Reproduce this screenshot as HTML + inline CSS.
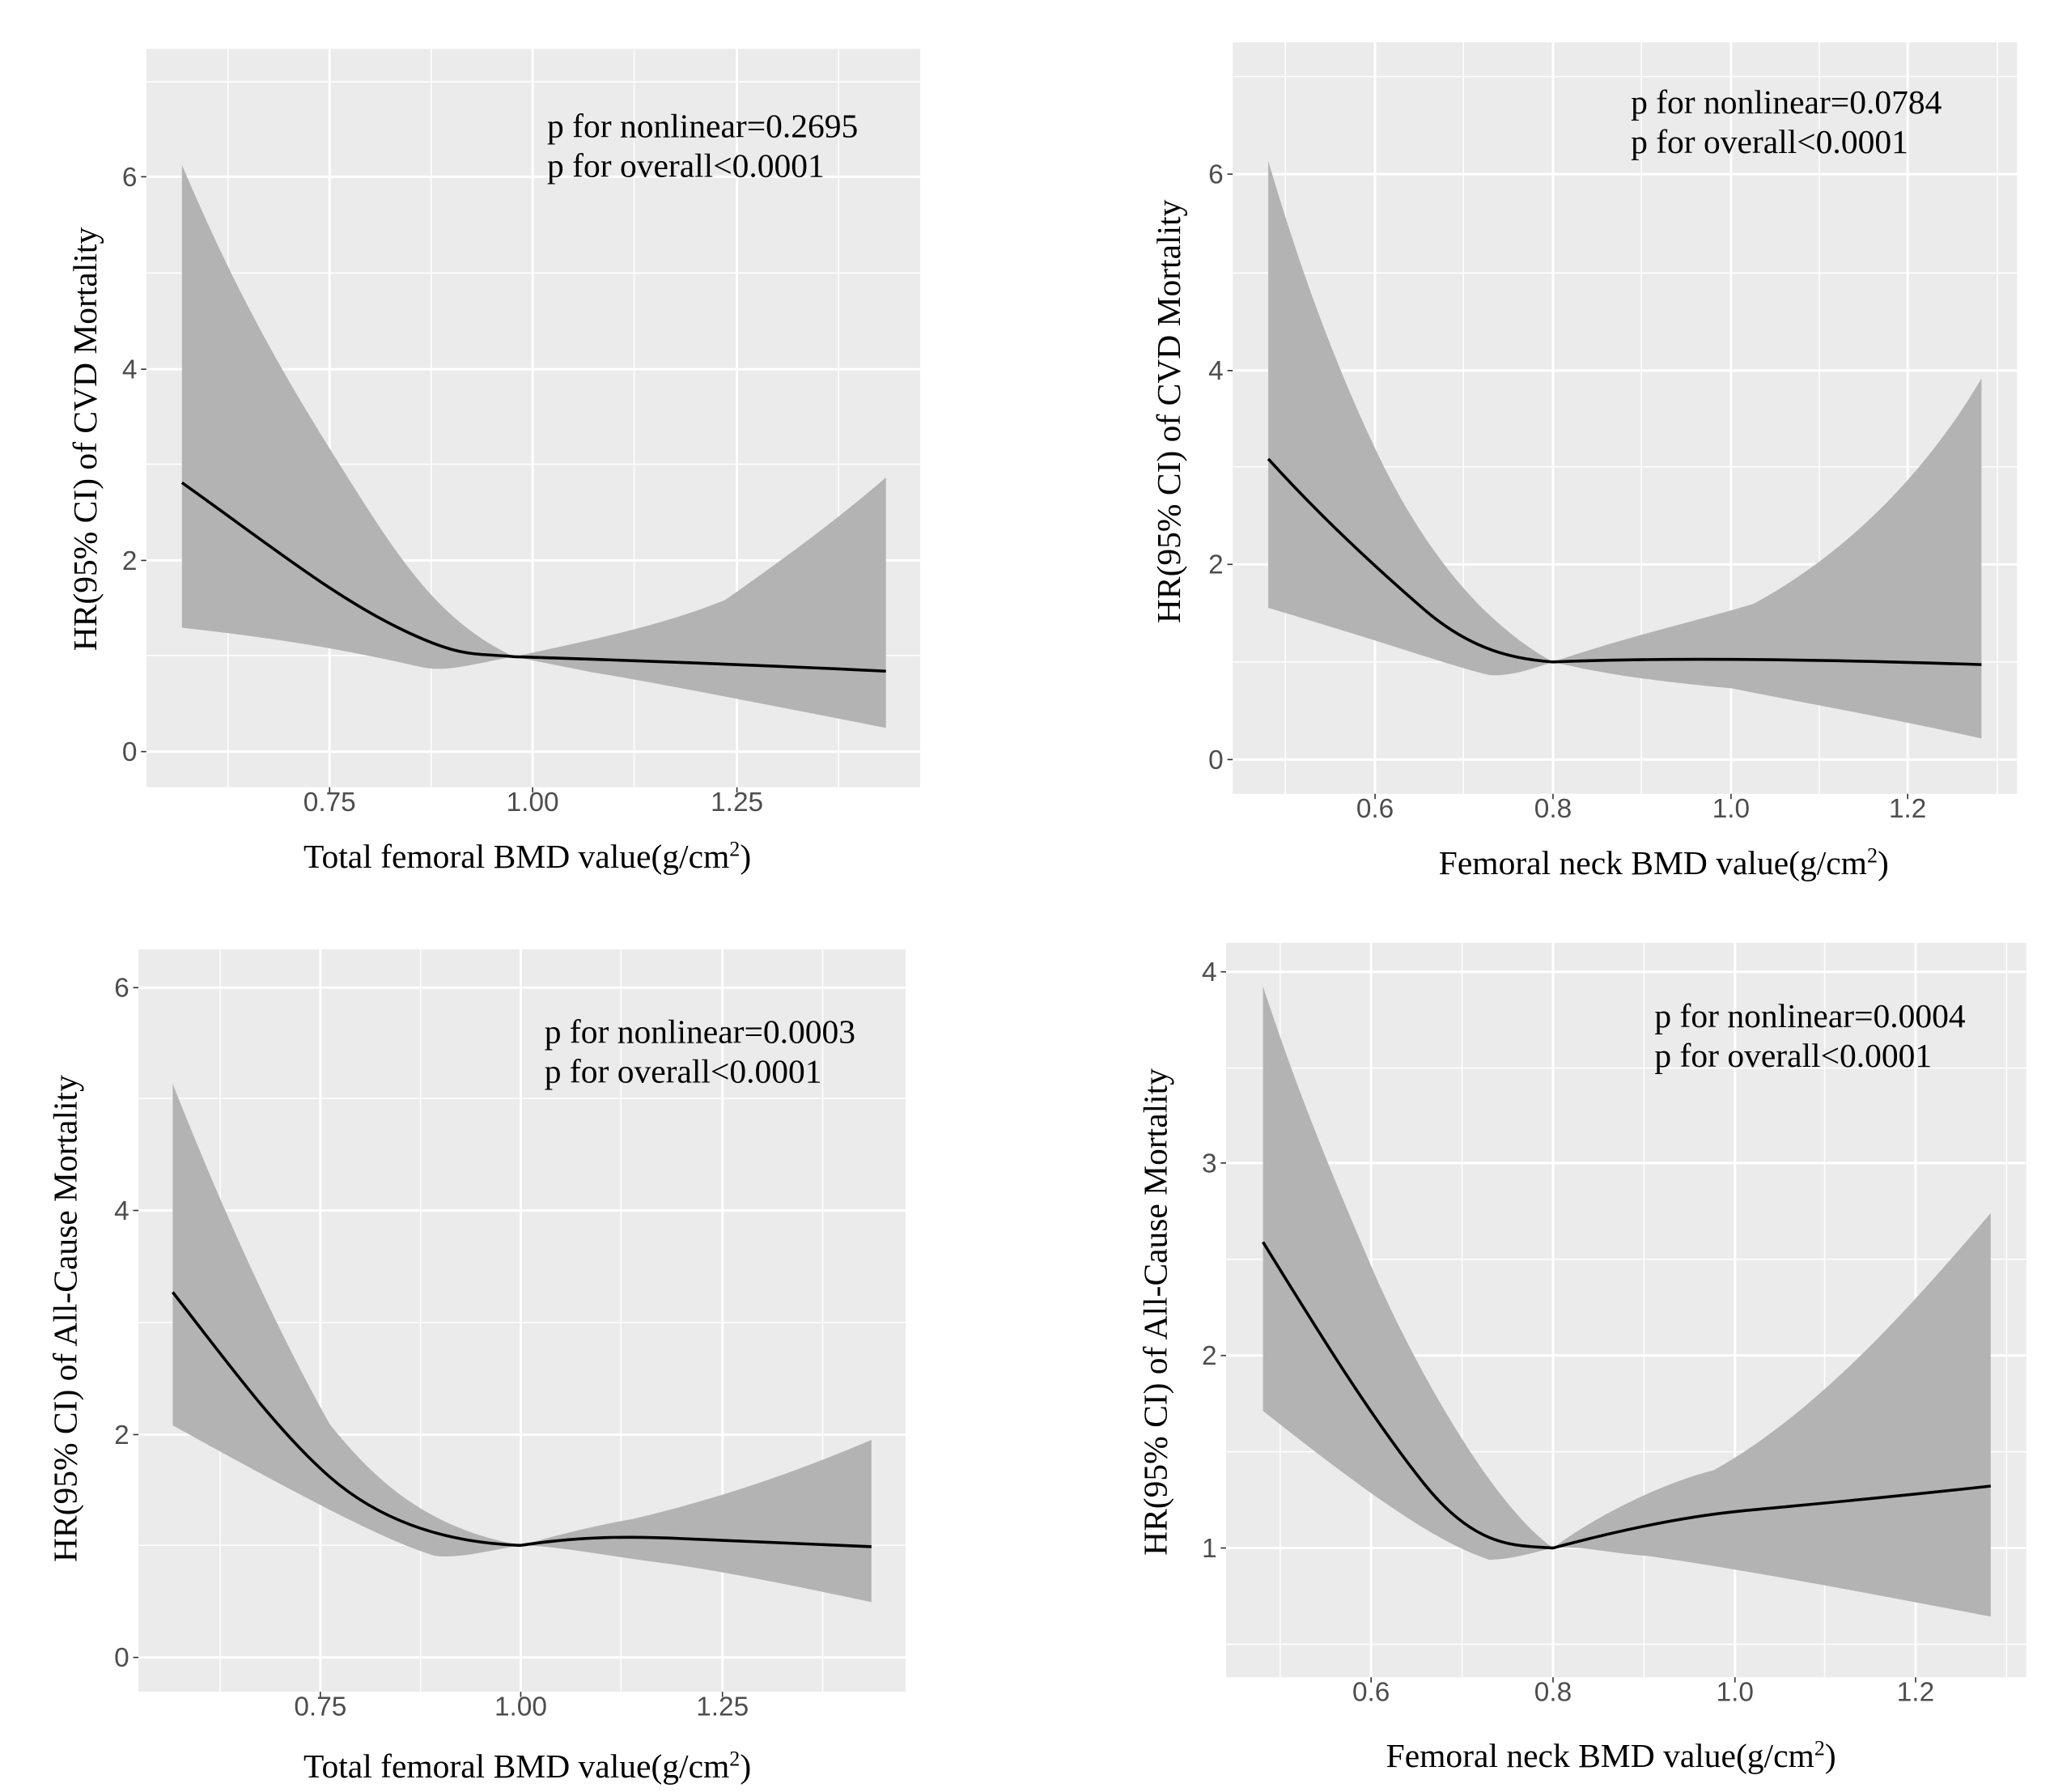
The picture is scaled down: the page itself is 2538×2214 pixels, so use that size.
<!DOCTYPE html>
<html><head><meta charset="utf-8"><style>html,body{margin:0;padding:0;background:#fff}svg{display:block}</style></head><body>
<svg width="2538" height="2214" viewBox="0 0 1558 1359" xmlns="http://www.w3.org/2000/svg">
<style>
.bg{fill:#ebebeb}.mj{stroke:#fff;stroke-width:1.8}.mn{stroke:#fff;stroke-width:0.9}
.tk{stroke:#333;stroke-width:1}.tl{font-family:"Liberation Sans",sans-serif;font-size:20.5px;fill:#4d4d4d}
.ti{font-family:"Liberation Serif",serif;font-size:25.5px;fill:#000}
.an{font-family:"Liberation Serif",serif;font-size:25.5px;fill:#000}
.band{fill:#b3b3b3}.ln{fill:none;stroke:#000;stroke-width:2.2}
</style>

<!-- Panel 1 -->
<rect class="bg" x="111" y="37" width="587" height="560"/>
<g class="mn"><line x1="111" x2="698" y1="497" y2="497"/><line x1="111" x2="698" y1="352" y2="352"/><line x1="111" x2="698" y1="207" y2="207"/><line x1="111" x2="698" y1="62" y2="62"/>
<line y1="37" y2="597" x1="173" x2="173"/><line y1="37" y2="597" x1="327" x2="327"/><line y1="37" y2="597" x1="481" x2="481"/><line y1="37" y2="597" x1="636" x2="636"/></g>
<g class="mj"><line x1="111" x2="698" y1="570" y2="570"/><line x1="111" x2="698" y1="425" y2="425"/><line x1="111" x2="698" y1="280" y2="280"/><line x1="111" x2="698" y1="134" y2="134"/>
<line y1="37" y2="597" x1="250" x2="250"/><line y1="37" y2="597" x1="404" x2="404"/><line y1="37" y2="597" x1="559" x2="559"/></g>
<path class="band" d="M138,125 C170,200 200,260 250,340 S330,470 390,498 C450,485 500,475 550,455 C600,420 640,390 672,362 L672,552 C600,538 500,518 450,510 L390,498 C360,503 340,510 320,506 C250,490 200,483 138,476 Z"/>
<path class="ln" d="M138,366 C200,410 250,450 300,475 S360,495 390,498 C450,500 550,503 672,509"/>
<g class="tk"><line x1="107" x2="111" y1="570" y2="570"/><line x1="107" x2="111" y1="425" y2="425"/><line x1="107" x2="111" y1="280" y2="280"/><line x1="107" x2="111" y1="134" y2="134"/>
<line y1="597" y2="601" x1="250" x2="250"/><line y1="597" y2="601" x1="404" x2="404"/><line y1="597" y2="601" x1="559" x2="559"/></g>
<g class="tl" text-anchor="end"><text x="104" y="577">0</text><text x="104" y="432">2</text><text x="104" y="287">4</text><text x="104" y="141">6</text></g>
<g class="tl" text-anchor="middle"><text x="250" y="615">0.75</text><text x="404" y="615">1.00</text><text x="559" y="615">1.25</text></g>
<text class="ti" x="400" y="658" text-anchor="middle">Total femoral BMD value(g/cm<tspan font-size="16" dy="-9">2</tspan><tspan dy="9">)</tspan></text>
<text class="ti" transform="translate(73,333) rotate(-90)" text-anchor="middle">HR(95% CI) of CVD Mortality</text>
<text class="an" x="415" y="104">p for nonlinear=0.2695</text><text class="an" x="415" y="134">p for overall&lt;0.0001</text>

<!-- Panel 2 -->
<rect class="bg" x="935" y="32" width="595" height="570"/>
<g class="mn"><line x1="935" x2="1530" y1="502" y2="502"/><line x1="935" x2="1530" y1="354" y2="354"/><line x1="935" x2="1530" y1="207" y2="207"/><line x1="935" x2="1530" y1="58" y2="58"/>
<line y1="32" y2="602" x1="975" x2="975"/><line y1="32" y2="602" x1="1110" x2="1110"/><line y1="32" y2="602" x1="1245" x2="1245"/><line y1="32" y2="602" x1="1380" x2="1380"/><line y1="32" y2="602" x1="1515" x2="1515"/></g>
<g class="mj"><line x1="935" x2="1530" y1="576" y2="576"/><line x1="935" x2="1530" y1="428" y2="428"/><line x1="935" x2="1530" y1="281" y2="281"/><line x1="935" x2="1530" y1="132" y2="132"/>
<line y1="32" y2="602" x1="1043" x2="1043"/><line y1="32" y2="602" x1="1178" x2="1178"/><line y1="32" y2="602" x1="1313" x2="1313"/><line y1="32" y2="602" x1="1447" x2="1447"/></g>
<path class="band" d="M962,122 C985,200 1010,270 1043,340 S1120,470 1178,502 C1230,484 1290,470 1330,458 C1400,420 1460,360 1503,287 L1503,560 C1440,546 1380,535 1313,522 C1260,517 1220,512 1178,502 C1160,508 1145,513 1130,512 C1100,505 1060,490 962,461 Z"/>
<path class="ln" d="M962,348 C1000,390 1043,430 1080,462 S1150,500 1178,502 C1250,499 1350,499 1503,504"/>
<g class="tk"><line x1="931" x2="935" y1="576" y2="576"/><line x1="931" x2="935" y1="428" y2="428"/><line x1="931" x2="935" y1="281" y2="281"/><line x1="931" x2="935" y1="132" y2="132"/>
<line y1="602" y2="606" x1="1043" x2="1043"/><line y1="602" y2="606" x1="1178" x2="1178"/><line y1="602" y2="606" x1="1313" x2="1313"/><line y1="602" y2="606" x1="1447" x2="1447"/></g>
<g class="tl" text-anchor="end"><text x="928" y="583">0</text><text x="928" y="435">2</text><text x="928" y="288">4</text><text x="928" y="139">6</text></g>
<g class="tl" text-anchor="middle"><text x="1043" y="620">0.6</text><text x="1178" y="620">0.8</text><text x="1313" y="620">1.0</text><text x="1447" y="620">1.2</text></g>
<text class="ti" x="1262" y="663" text-anchor="middle">Femoral neck BMD value(g/cm<tspan font-size="16" dy="-9">2</tspan><tspan dy="9">)</tspan></text>
<text class="ti" transform="translate(895,312) rotate(-90)" text-anchor="middle">HR(95% CI) of CVD Mortality</text>
<text class="an" x="1237" y="86">p for nonlinear=0.0784</text><text class="an" x="1237" y="116">p for overall&lt;0.0001</text>

<!-- Panel 3 -->
<rect class="bg" x="105" y="720" width="582" height="563"/>
<g class="mn"><line x1="105" x2="687" y1="1172" y2="1172"/><line x1="105" x2="687" y1="1003" y2="1003"/><line x1="105" x2="687" y1="833" y2="833"/>
<line y1="720" y2="1283" x1="167" x2="167"/><line y1="720" y2="1283" x1="319" x2="319"/><line y1="720" y2="1283" x1="471" x2="471"/><line y1="720" y2="1283" x1="624" x2="624"/></g>
<g class="mj"><line x1="105" x2="687" y1="1257" y2="1257"/><line x1="105" x2="687" y1="1088" y2="1088"/><line x1="105" x2="687" y1="918" y2="918"/><line x1="105" x2="687" y1="749" y2="749"/>
<line y1="720" y2="1283" x1="243" x2="243"/><line y1="720" y2="1283" x1="395" x2="395"/><line y1="720" y2="1283" x1="548" x2="548"/></g>
<path class="band" d="M131,822 C160,895 200,990 250,1080 C290,1130 330,1160 395,1172 C420,1165 450,1157 480,1152 C540,1138 600,1118 661,1092 L661,1215 C600,1202 540,1190 500,1185 C460,1180 420,1172 395,1172 C370,1176 350,1182 330,1180 C290,1168 220,1130 131,1081 Z"/>
<path class="ln" d="M131,980 C170,1030 210,1085 250,1120 S340,1170 395,1172 C440,1165 480,1165 520,1167 S600,1170 661,1173"/>
<g class="tk"><line x1="101" x2="105" y1="1257" y2="1257"/><line x1="101" x2="105" y1="1088" y2="1088"/><line x1="101" x2="105" y1="918" y2="918"/><line x1="101" x2="105" y1="749" y2="749"/>
<line y1="1283" y2="1287" x1="243" x2="243"/><line y1="1283" y2="1287" x1="395" x2="395"/><line y1="1283" y2="1287" x1="548" x2="548"/></g>
<g class="tl" text-anchor="end"><text x="98" y="1264">0</text><text x="98" y="1095">2</text><text x="98" y="925">4</text><text x="98" y="756">6</text></g>
<g class="tl" text-anchor="middle"><text x="243" y="1301">0.75</text><text x="395" y="1301">1.00</text><text x="548" y="1301">1.25</text></g>
<text class="ti" x="400" y="1348" text-anchor="middle">Total femoral BMD value(g/cm<tspan font-size="16" dy="-9">2</tspan><tspan dy="9">)</tspan></text>
<text class="ti" transform="translate(58,1000) rotate(-90)" text-anchor="middle">HR(95% CI) of All-Cause Mortality</text>
<text class="an" x="413" y="791">p for nonlinear=0.0003</text><text class="an" x="413" y="821">p for overall&lt;0.0001</text>

<!-- Panel 4 -->
<rect class="bg" x="930" y="715" width="607" height="557"/>
<g class="mn"><line x1="930" x2="1537" y1="1247" y2="1247"/><line x1="930" x2="1537" y1="1101" y2="1101"/><line x1="930" x2="1537" y1="955" y2="955"/><line x1="930" x2="1537" y1="810" y2="810"/>
<line y1="715" y2="1272" x1="971" x2="971"/><line y1="715" y2="1272" x1="1109" x2="1109"/><line y1="715" y2="1272" x1="1247" x2="1247"/><line y1="715" y2="1272" x1="1384" x2="1384"/><line y1="715" y2="1272" x1="1522" x2="1522"/></g>
<g class="mj"><line x1="930" x2="1537" y1="1174" y2="1174"/><line x1="930" x2="1537" y1="1028" y2="1028"/><line x1="930" x2="1537" y1="882" y2="882"/><line x1="930" x2="1537" y1="737" y2="737"/>
<line y1="715" y2="1272" x1="1040" x2="1040"/><line y1="715" y2="1272" x1="1178" x2="1178"/><line y1="715" y2="1272" x1="1316" x2="1316"/><line y1="715" y2="1272" x1="1453" x2="1453"/></g>
<path class="band" d="M958,748 C985,830 1010,890 1040,960 S1130,1140 1178,1174 C1210,1150 1260,1125 1300,1115 C1380,1070 1450,990 1510,920 L1510,1226 C1400,1205 1320,1190 1250,1180 C1220,1178 1200,1172 1178,1174 C1160,1178 1150,1182 1130,1183 C1090,1170 1040,1135 958,1070 Z"/>
<path class="ln" d="M958,942 C1000,1010 1040,1075 1080,1125 S1150,1172 1178,1174 C1230,1160 1280,1150 1320,1146 S1420,1137 1510,1127"/>
<g class="tk"><line x1="926" x2="930" y1="1174" y2="1174"/><line x1="926" x2="930" y1="1028" y2="1028"/><line x1="926" x2="930" y1="882" y2="882"/><line x1="926" x2="930" y1="737" y2="737"/>
<line y1="1272" y2="1276" x1="1040" x2="1040"/><line y1="1272" y2="1276" x1="1178" x2="1178"/><line y1="1272" y2="1276" x1="1316" x2="1316"/><line y1="1272" y2="1276" x1="1453" x2="1453"/></g>
<g class="tl" text-anchor="end"><text x="923" y="1181">1</text><text x="923" y="1035">2</text><text x="923" y="889">3</text><text x="923" y="744">4</text></g>
<g class="tl" text-anchor="middle"><text x="1040" y="1290">0.6</text><text x="1178" y="1290">0.8</text><text x="1316" y="1290">1.0</text><text x="1453" y="1290">1.2</text></g>
<text class="ti" x="1222" y="1340" text-anchor="middle">Femoral neck BMD value(g/cm<tspan font-size="16" dy="-9">2</tspan><tspan dy="9">)</tspan></text>
<text class="ti" transform="translate(885,995) rotate(-90)" text-anchor="middle">HR(95% CI) of All-Cause Mortality</text>
<text class="an" x="1255" y="779">p for nonlinear=0.0004</text><text class="an" x="1255" y="809">p for overall&lt;0.0001</text>
</svg>
</body></html>
